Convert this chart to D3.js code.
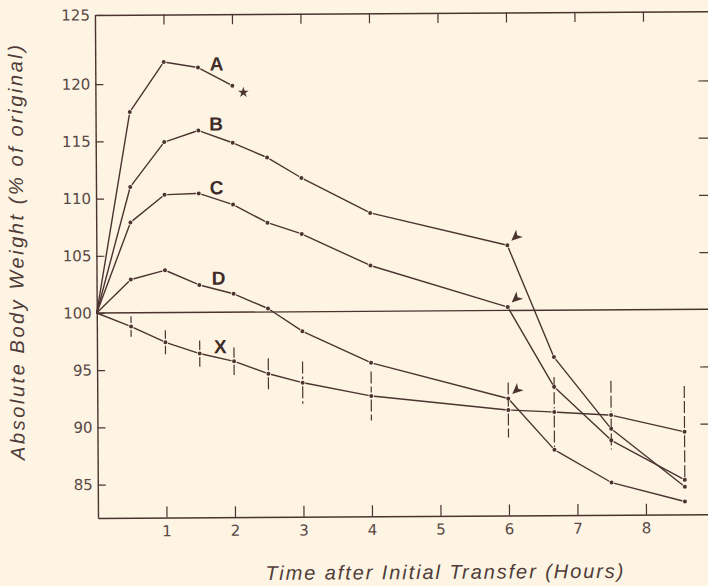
<!DOCTYPE html>
<html>
<head>
<meta charset="utf-8">
<script src="https://cdn.jsdelivr.net/npm/d3@7"></script>
<style>
  html, body { margin: 0; padding: 0; background: #fdf4e4; }
  svg { display: block; }
</style>
</head>
<body>
<script>
// Absolute body weight (% of original) over time after initial transfer
const hours = [0, 0.5, 1, 1.5, 2, 2.5, 3, 4, 6, 6.67, 7.5, 8.57];
const hoursA = [0, 0.5, 1, 1.5, 2];
const weightA = [100, 117.55, 121.9, 121.4, 119.8];
const weightB = [100, 111.0, 114.9, 115.9, 114.8, 113.5, 111.7, 108.6, 105.7, 95.9, 89.6, 84.5];
const weightC = [100, 107.9, 110.3, 110.4, 109.4, 107.8, 106.8, 104.0, 100.3, 93.3, 88.6, 85.1];
const weightD = [100, 102.9, 103.7, 102.4, 101.6, 100.3, 98.3, 95.5, 92.3, 87.8, 84.9, 83.2];
const weightX = [100, 98.8, 97.4, 96.4, 95.7, 94.6, 93.8, 92.6, 91.3, 91.1, 90.8, 89.3];
const rangeX = [0, 0.9, 1.05, 1.15, 1.2, 1.35, 1.85, 2.15, 2.4, 3.05, 3.0, 4.0];

// end of series A (death) and the transfer points marked by arrows
const starHour = [2.16];
const starWeight = [119.2];
const arrowHour = [6, 6, 6];
const arrowWeight = [105.7, 100.3, 92.3];

// curve labels
const labelText = ["A", "B", "C", "D", "X"];
const labelHour = [1.77, 1.76, 1.76, 1.78, 1.80];
const labelWeight = [121.7, 116.46, 110.89, 102.97, 96.99];

const xTicks = [1, 2, 3, 4, 5, 6, 7, 8];
const yTicks = [125, 120, 115, 110, 105, 100, 95, 90, 85];
const yTicksRight = [120, 115, 110, 105, 95, 90];

const ink = "#4b3430";
const W = 708, H = 586;
const padL = 98, padB = 518, padT = 15, padR = 714;

const x = d3.scaleLinear().domain([0, 1]).range([padL, padL + 68.5]);
const xMax = x.invert(padR);
const xFrame = x.copy().domain([0, xMax]).range([padL, padR]);
// the frame's top edge carries the 125 label
const y = d3.scaleLinear().domain([82.08, 122, 125]).range([padB, 61.3, padT]);

const svg = d3.select("body").append("svg").attr("width", W).attr("height", H);
svg.append("rect").attr("width", W).attr("height", H).attr("fill", "#fdf4e4");

const g = svg.append("g").attr("transform", `rotate(-0.35,${padL},${padB})`);

const tickFont = "'DejaVu Sans', sans-serif";

function styleAxis(sel) {
  sel.selectAll("path.domain").attr("stroke", ink).attr("stroke-width", 1.4);
  sel.selectAll(".tick line").attr("stroke", ink).attr("stroke-width", 1.2);
  sel.selectAll(".tick text").attr("fill", "#5a4844")
    .style("font-family", tickFont).style("font-size", "15px");
}

// bottom axis
g.append("g").attr("transform", `translate(0,${padB})`)
  .call(d3.axisBottom(xFrame)
    .tickValues(xTicks).tickSizeInner(-11).tickSizeOuter(0).tickPadding(8)
    .tickFormat(d3.format("d")))
  .call(styleAxis);

// top frame with ticks
g.append("g").attr("transform", `translate(0,${padT})`)
  .call(d3.axisTop(xFrame)
    .tickValues(xTicks).tickSizeInner(-10).tickSizeOuter(0).tickFormat(""))
  .call(styleAxis);

// left axis
g.append("g").attr("transform", `translate(${padL},0)`)
  .call(d3.axisLeft(y).tickValues(yTicks).tickSizeInner(-8).tickSizeOuter(0).tickPadding(5)
    .tickFormat(d3.format("d")))
  .call(styleAxis);

// right frame with ticks
g.append("g").attr("transform", `translate(${padR},0)`)
  .call(d3.axisRight(y).tickValues(yTicksRight).tickSizeInner(-13).tickSizeOuter(0).tickFormat(""))
  .call(styleAxis);

// reference line at 100 %
g.append("line")
  .attr("x1", x(0)).attr("x2", x(xMax))
  .attr("y1", y(100)).attr("y2", y(100))
  .attr("stroke", ink).attr("stroke-width", 1.3);

// a series: straight segments broken just short of each plotted point
function drawSeries(hs, ws) {
  const pts = hs.map((h, i) => [x(h), y(ws[i])]);
  const gap = 3.2;
  const sg = g.append("g");
  for (let i = 0; i < pts.length - 1; i++) {
    const [x0, y0] = pts[i], [x1, y1] = pts[i + 1];
    const len = Math.hypot(x1 - x0, y1 - y0);
    const ux = (x1 - x0) / len, uy = (y1 - y0) / len;
    const g0 = i === 0 ? 0 : gap;
    sg.append("line")
      .attr("x1", x0 + ux * g0).attr("y1", y0 + uy * g0)
      .attr("x2", x1 - ux * gap).attr("y2", y1 - uy * gap)
      .attr("stroke", ink).attr("stroke-width", 1.4).attr("stroke-linecap", "round");
  }
  sg.selectAll("circle").data(pts.slice(1)).join("circle")
    .attr("cx", d => d[0]).attr("cy", d => d[1]).attr("r", 2).attr("fill", ink);
}

// spread of series X
const eb = g.append("g");
hours.forEach((h, i) => {
  if (!rangeX[i]) return;
  const cx = x(h), cy = y(weightX[i]);
  const yt = y(weightX[i] + rangeX[i]), yb = y(weightX[i] - rangeX[i]);
  [[yt, cy - 3.5], [cy + 3.5, yb]].forEach(([a, b]) => {
    eb.append("line").attr("x1", cx).attr("x2", cx).attr("y1", a).attr("y2", b)
      .attr("stroke", ink).attr("stroke-width", 1.2)
      .attr("stroke-dasharray", "12,3");
  });
});

drawSeries(hoursA, weightA);
drawSeries(hours, weightB);
drawSeries(hours, weightC);
drawSeries(hours, weightD);
drawSeries(hours, weightX);

// star closing series A
g.append("path")
  .attr("d", d3.symbol(d3.symbolStar, 36)())
  .attr("transform", `translate(${x(starHour[0])},${y(starWeight[0])})`)
  .attr("fill", ink);

// arrowheads pointing at the 6-hour points
const arrowPath = "M0,0 L11,-5 L8,0 L11,5 Z";
g.selectAll("path.arrow").data(arrowHour).join("path")
  .attr("class", "arrow")
  .attr("d", arrowPath)
  .attr("transform", (h, i) => `translate(${x(h) + 4},${y(arrowWeight[i]) - 4.5}) rotate(-42)`)
  .attr("fill", ink);

// curve letters
g.selectAll("text.curve").data(labelText).join("text")
  .attr("class", "curve")
  .attr("x", (d, i) => x(labelHour[i]))
  .attr("y", (d, i) => y(labelWeight[i]))
  .attr("text-anchor", "middle").attr("dominant-baseline", "central")
  .attr("fill", "#3f2b28")
  .style("font-family", "'Liberation Sans', Arial, sans-serif")
  .style("font-weight", "bold").style("font-size", "19px")
  .text(d => d);

// axis titles
g.append("text")
  .attr("transform", "translate(25,252) rotate(-90)")
  .attr("text-anchor", "middle")
  .attr("textLength", 415).attr("lengthAdjust", "spacing")
  .attr("fill", "#4f3c38")
  .style("font-family", "'Liberation Sans', Arial, sans-serif")
  .style("font-style", "italic").style("font-size", "20px")
  .text("Absolute Body Weight (% of original)");

g.append("text")
  .attr("x", 444).attr("y", 581)
  .attr("text-anchor", "middle")
  .attr("textLength", 358).attr("lengthAdjust", "spacing")
  .attr("fill", "#4f3c38")
  .style("font-family", "'Liberation Sans', Arial, sans-serif")
  .style("font-style", "italic").style("font-size", "20px")
  .text("Time after Initial Transfer (Hours)");
</script>
</body>
</html>
